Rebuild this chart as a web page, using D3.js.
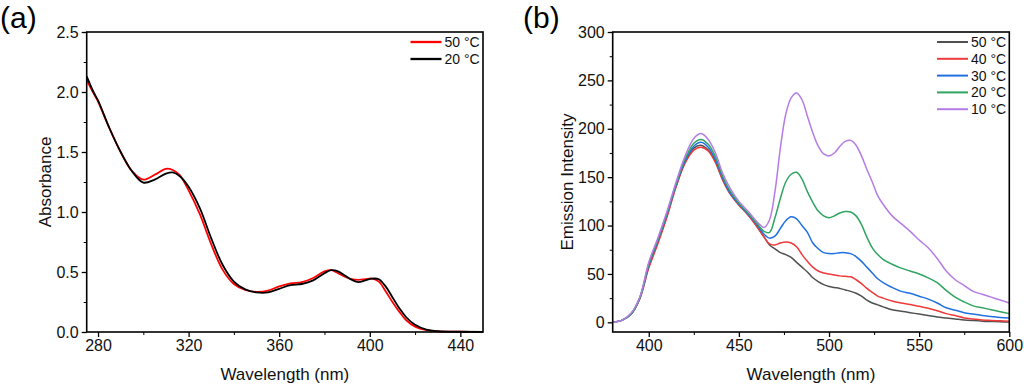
<!DOCTYPE html>
<html>
<head>
<meta charset="utf-8">
<script src="https://cdn.jsdelivr.net/npm/d3@7"></script>
<style>
  html, body { margin: 0; padding: 0; background: #fff; }
  svg { display: block; font-family: "Liberation Sans", Arial, sans-serif; }
</style>
</head>
<body>
<svg id="chart" width="1024" height="385"></svg>
<script>
// ---- panel (a): absorbance ----
var absWavelength = [275, 278, 280, 285, 290, 295, 300, 305, 310, 313, 316, 320, 325, 330, 335, 340, 345, 350, 355, 360,
    365, 370, 375, 380, 383, 386, 389, 392, 395, 398, 401, 404, 407, 410, 413, 416, 420, 425, 430, 440, 450];
var abs50 = [2.10, 1.99, 1.92, 1.70, 1.50, 1.34, 1.27, 1.31, 1.36, 1.35, 1.31, 1.18, 0.98, 0.73, 0.52, 0.40, 0.35, 0.335, 0.345, 0.38,
    0.405, 0.415, 0.45, 0.505, 0.515, 0.49, 0.46, 0.44, 0.435, 0.44, 0.445, 0.42, 0.34, 0.25, 0.17, 0.10, 0.045, 0.015, 0.005, 0.002, 0.001];
var abs20 = [2.13, 2.00, 1.93, 1.70, 1.50, 1.34, 1.245, 1.27, 1.32, 1.33, 1.30, 1.21, 1.03, 0.78, 0.56, 0.42, 0.355, 0.33, 0.33, 0.36,
    0.39, 0.40, 0.43, 0.49, 0.515, 0.505, 0.47, 0.435, 0.415, 0.43, 0.445, 0.44, 0.38, 0.29, 0.20, 0.125, 0.06, 0.02, 0.007, 0.002, 0.001];
var absSeries = ["50 °C", "20 °C"];
var absColors = ["#ff0000", "#000000"];
var absXTicks = [280, 320, 360, 400, 440];
var absYTicks = [0, 0.5, 1.0, 1.5, 2.0, 2.5];

// ---- panel (b): emission ----
var emWavelength = [380, 385, 390, 395, 400, 405, 410, 415, 420, 425, 429, 433, 437, 441, 445, 450, 455, 460, 464, 467,
    470, 473, 476, 479, 482, 485, 488, 491, 494, 497, 500, 503, 506, 509, 512, 515, 518, 521, 524, 527,
    530, 535, 540, 545, 550, 555, 560, 565, 570, 575, 580, 585, 590, 595, 600];
var em50 = [0, 2, 8, 25, 58, 83, 110, 140, 165, 180, 183, 178, 166, 148, 134, 122, 112, 99, 88, 80,
    76, 72, 70, 67, 62, 57, 52, 46, 42, 39, 37, 36, 35, 33.5, 32, 30, 27, 23, 20, 18,
    16, 13, 11.5, 10, 8.5, 7, 5.5, 4.5, 3.5, 2.5, 1.8, 1.2, 0.8, 0.5, 0.3];
var em40 = [0, 2, 8, 24, 56, 81, 108, 139, 164, 178, 181, 177, 165, 147, 133, 121, 111, 99, 88, 81,
    80, 82, 83, 82, 78, 70, 63, 57, 53, 51, 50, 49, 48, 47.5, 47, 44, 40, 35, 31, 27,
    25, 22, 20, 18.5, 16.5, 14.5, 12, 9, 7, 4.5, 3.5, 2.5, 2, 1.5, 1];
var em30 = [0, 2, 8, 25, 59, 84, 111, 141, 166, 182, 186, 181, 168, 149, 134, 122, 112, 101, 91, 87,
    89, 97, 105, 109, 107, 100, 93, 82, 76, 72, 71, 71, 72, 72, 71, 68, 63, 57, 51, 45,
    41, 36, 32, 30, 27, 24, 20, 15, 12.5, 10, 8.5, 7, 6, 5, 4.5];
var em20 = [0, 2, 8, 25, 60, 85, 112, 142, 168, 185, 189, 184, 171, 151, 136, 123, 113, 102, 94, 93,
    108, 128, 145, 153, 155, 148, 135, 124, 115, 110, 108, 110, 113, 114.5, 114, 110, 101, 88, 77, 70,
    65, 60, 56, 53, 50, 46, 41, 33, 26, 21, 17, 15, 13, 11, 9];
var em10 = [0, 2, 9, 26, 62, 87, 114, 144, 171, 190, 195, 189, 175, 154, 139, 125, 115, 104, 98, 106,
    135, 180, 215, 232, 237, 230, 213, 196, 182, 174, 172, 175, 182, 187, 188, 183, 172, 158, 145, 131,
    122, 110, 102, 94, 85, 77, 66, 53, 44, 38, 32, 29, 26, 23, 20];
var emSeries = ["50 °C", "40 °C", "30 °C", "20 °C", "10 °C"];
var emColors = ["#505050", "#ee3a3a", "#2070e0", "#30a460", "#b47ce4"];
var emXTicks = [400, 450, 500, 550, 600];
var emYTicks = [0, 50, 100, 150, 200, 250, 300];

var svg = d3.select("#chart");

function drawPanel(opt) {
    var g = svg.append("g");
    var x = d3.scaleLinear().domain(opt.xDomain).range([opt.left, opt.right]);
    var y = d3.scaleLinear().domain(opt.yDomain).range([opt.bottom, opt.top]);

    // minor ticks
    g.append("g")
        .attr("transform", "translate(0," + opt.bottom + ")")
        .call(d3.axisBottom(x).tickValues(opt.xMinor).tickSize(3).tickFormat(""))
        .call(s => s.select(".domain").remove());
    g.append("g")
        .attr("transform", "translate(" + opt.left + ",0)")
        .call(d3.axisLeft(y).tickValues(opt.yMinor).tickSize(3).tickFormat(""))
        .call(s => s.select(".domain").remove());

    // major axes
    var xa = g.append("g")
        .attr("transform", "translate(0," + opt.bottom + ")")
        .call(d3.axisBottom(x).tickValues(opt.xTicks).tickSize(5).tickSizeOuter(0).tickPadding(3));
    var ya = g.append("g")
        .attr("transform", "translate(" + opt.left + ",0)")
        .call(d3.axisLeft(y).tickValues(opt.yTicks).tickSize(5).tickSizeOuter(0).tickPadding(3).tickFormat(opt.yFormat));
    [xa, ya].forEach(a => {
        a.selectAll("text").attr("font-size", 16).attr("fill", "#111").attr("font-family", "Liberation Sans, Arial, sans-serif");
        a.selectAll("line").attr("stroke", "#000").attr("stroke-width", 1.3);
        a.select(".domain").remove();
    });

    // curves
    var line = d3.line()
        .curve(d3.curveCatmullRom.alpha(0.5))
        .x(d => x(d[0]))
        .y(d => y(d[1]));
    opt.series.forEach((vals, i) => {
        g.append("path")
            .datum(opt.wl.map((w, k) => [w, vals[k]]))
            .attr("fill", "none")
            .attr("stroke", opt.colors[i])
            .attr("stroke-width", opt.lineWidth)
            .attr("stroke-linejoin", "round")
            .attr("d", line);
    });

    // frame
    g.append("rect")
        .attr("x", opt.left).attr("y", opt.top)
        .attr("width", opt.right - opt.left).attr("height", opt.bottom - opt.top)
        .attr("fill", "none").attr("stroke", "#000").attr("stroke-width", 1.6);

    // axis titles
    g.append("text")
        .attr("x", (opt.left + opt.right) / 2).attr("y", 380)
        .attr("text-anchor", "middle").attr("font-size", 17).attr("fill", "#111")
        .text("Wavelength (nm)");
    g.append("text")
        .attr("transform", "translate(" + opt.yTitleX + "," + ((opt.top + opt.bottom) / 2) + ") rotate(-90)")
        .attr("text-anchor", "middle").attr("font-size", 17).attr("fill", "#111")
        .text(opt.yTitle);

    // panel label
    g.append("text")
        .attr("x", opt.labelX).attr("y", 28)
        .attr("font-size", 30).attr("fill", "#000")
        .text(opt.label);

    // legend
    var lg = g.append("g");
    opt.names.forEach((n, i) => {
        var ly = 42 + i * opt.legendStep;
        lg.append("line")
            .attr("x1", opt.legendX).attr("x2", opt.legendX + 31)
            .attr("y1", ly).attr("y2", ly)
            .attr("stroke", opt.colors[i]).attr("stroke-width", opt.lineWidth + 0.5);
        lg.append("text")
            .attr("x", opt.legendX + 34).attr("y", ly + 5)
            .attr("font-size", 14).attr("fill", "#111")
            .text(n);
    });
}

drawPanel({
    left: 86.7, right: 483, top: 32, bottom: 332,
    xDomain: [275, 450], yDomain: [0, 2.5],
    xTicks: absXTicks, yTicks: absYTicks,
    xMinor: [300, 340, 380, 420], yMinor: [0.25, 0.75, 1.25, 1.75, 2.25],
    yFormat: d3.format(".1f"),
    wl: absWavelength, series: [abs50, abs20], colors: absColors, names: absSeries,
    lineWidth: 1.8, yTitle: "Absorbance", yTitleX: 51, label: "(a)", labelX: 0,
    legendX: 410.5, legendStep: 17
});

drawPanel({
    left: 612.7, right: 1009.3, top: 32, bottom: 332,
    xDomain: [380, 600], yDomain: [-10, 300],
    xTicks: emXTicks, yTicks: emYTicks,
    xMinor: [425, 475, 525, 575], yMinor: [25, 75, 125, 175, 225, 275],
    yFormat: d3.format("d"),
    wl: emWavelength, series: [em50, em40, em30, em20, em10], colors: emColors, names: emSeries,
    lineWidth: 1.5, yTitle: "Emission Intensity", yTitleX: 573, label: "(b)", labelX: 523,
    legendX: 937, legendStep: 16.8
});
</script>
</body>
</html>
